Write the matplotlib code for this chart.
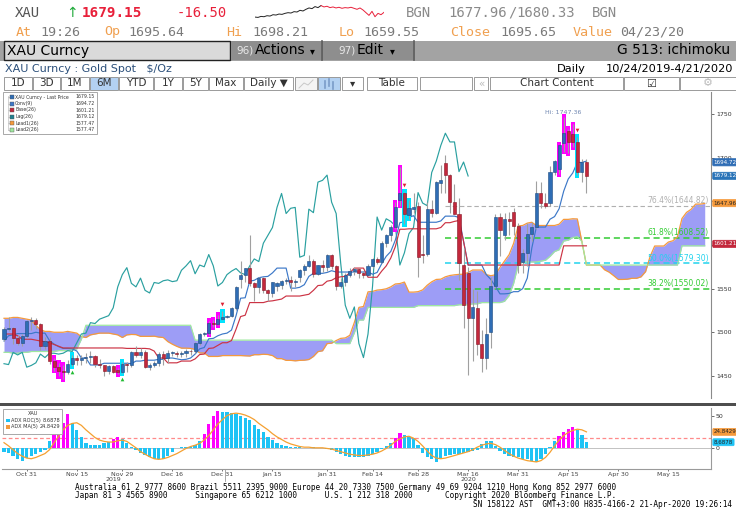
import numpy as np
import pandas as pd
import matplotlib
matplotlib.use("Agg")
import matplotlib.pyplot as plt
from matplotlib.patches import Rectangle
from matplotlib.lines import Line2D
import matplotlib.transforms as mtransforms

# ---------------- data ----------------
start_date = '2019-10-24'
opens = [1492, 1504, 1505, 1493, 1488, 1496, 1513, 1514, 1509, 1484,
 1490, 1467, 1460, 1456, 1455, 1464, 1471, 1468, 1471, 1472,
 1473, 1464, 1462, 1456, 1461, 1457, 1454, 1464, 1463, 1477,
 1474, 1477, 1460, 1462, 1465, 1475, 1471, 1476, 1476, 1475,
 1476, 1479, 1478, 1488, 1498, 1499, 1511, 1510, 1515, 1517,
 1519, 1528, 1561, 1566, 1574, 1556, 1552, 1562, 1548, 1545,
 1553, 1554, 1559, 1560, 1558, 1563, 1571, 1576, 1582, 1567,
 1577, 1575, 1589, 1576, 1553, 1557, 1566, 1570, 1573, 1568,
 1566, 1576, 1584, 1581, 1602, 1611, 1620, 1651, 1659, 1634,
 1641, 1645, 1590, 1590, 1641, 1637, 1671, 1694, 1680, 1649,
 1636, 1577, 1568, 1516, 1528, 1487, 1471, 1500, 1553, 1632,
 1611, 1630, 1638, 1622, 1580, 1591, 1613, 1620, 1660, 1648,
 1648, 1683, 1687, 1717, 1731, 1727, 1718, 1683, 1695]
highs = [1506, 1518, 1506, 1497, 1498, 1514, 1517, 1516, 1511, 1494,
 1495, 1471, 1465, 1463, 1468, 1474, 1474, 1474, 1476, 1479,
 1474, 1469, 1463, 1463, 1462, 1459, 1466, 1466, 1478, 1484,
 1482, 1480, 1465, 1467, 1477, 1479, 1480, 1479, 1479, 1479,
 1481, 1481, 1489, 1499, 1500, 1513, 1514, 1520, 1524, 1520,
 1529, 1553, 1582, 1574, 1611, 1557, 1563, 1563, 1550, 1558,
 1558, 1560, 1562, 1565, 1561, 1572, 1578, 1588, 1584, 1577,
 1583, 1590, 1590, 1577, 1562, 1568, 1574, 1575, 1574, 1570,
 1578, 1585, 1586, 1604, 1612, 1623, 1649, 1689, 1661, 1651,
 1660, 1649, 1611, 1649, 1652, 1673, 1692, 1703, 1681, 1670,
 1654, 1596, 1575, 1550, 1547, 1503, 1516, 1563, 1635, 1637,
 1637, 1638, 1642, 1625, 1595, 1625, 1626, 1673, 1672, 1660,
 1691, 1697, 1715, 1747, 1733, 1738, 1724, 1698, 1698]
lows = [1490, 1501, 1487, 1485, 1484, 1493, 1503, 1504, 1480, 1481,
 1464, 1456, 1450, 1446, 1452, 1461, 1462, 1463, 1465, 1465,
 1460, 1459, 1450, 1452, 1453, 1452, 1453, 1454, 1460, 1472,
 1470, 1459, 1457, 1460, 1461, 1463, 1465, 1473, 1472, 1472,
 1472, 1474, 1476, 1485, 1496, 1497, 1506, 1508, 1514, 1516,
 1517, 1525, 1551, 1557, 1553, 1536, 1545, 1545, 1536, 1540,
 1547, 1550, 1555, 1547, 1552, 1558, 1566, 1575, 1563, 1566,
 1569, 1570, 1572, 1548, 1551, 1553, 1563, 1566, 1562, 1562,
 1564, 1574, 1578, 1579, 1598, 1604, 1618, 1645, 1624, 1630,
 1637, 1563, 1579, 1587, 1632, 1636, 1660, 1660, 1637, 1635,
 1560, 1505, 1451, 1467, 1474, 1455, 1458, 1482, 1551, 1587,
 1606, 1611, 1611, 1568, 1568, 1576, 1604, 1618, 1642, 1642,
 1645, 1680, 1681, 1707, 1705, 1712, 1680, 1672, 1659]
closes = [1504, 1505, 1493, 1488, 1496, 1513, 1514, 1509, 1484, 1490,
 1467, 1460, 1456, 1455, 1464, 1471, 1468, 1471, 1472, 1473,
 1464, 1462, 1456, 1461, 1455, 1454, 1464, 1463, 1477, 1474,
 1477, 1460, 1462, 1465, 1475, 1471, 1476, 1476, 1475, 1476,
 1479, 1478, 1488, 1498, 1499, 1511, 1510, 1515, 1517, 1519,
 1528, 1552, 1566, 1574, 1556, 1552, 1562, 1548, 1545, 1557,
 1556, 1559, 1560, 1558, 1559, 1571, 1576, 1582, 1567, 1577,
 1575, 1589, 1576, 1553, 1557, 1566, 1570, 1573, 1568, 1566,
 1576, 1584, 1581, 1602, 1611, 1620, 1643, 1659, 1636, 1642,
 1643, 1586, 1588, 1641, 1637, 1672, 1674, 1680, 1649, 1636,
 1579, 1531, 1516, 1529, 1487, 1471, 1498, 1553, 1632, 1617,
 1630, 1627, 1622, 1577, 1591, 1613, 1620, 1660, 1648, 1645,
 1683, 1696, 1714, 1728, 1718, 1718, 1684, 1695, 1679]
conv_line = [1490, 1496, 1497, 1498.5, 1498.5, 1498.5, 1498.5, 1500, 1499, 1499,
 1490.5, 1486.5, 1483.5, 1481.5, 1481.5, 1481, 1478.5, 1470.5, 1470.5, 1462.5,
 1462.5, 1462.5, 1464.5, 1464.5, 1464.5, 1464.5, 1464.5, 1464.5, 1464, 1467,
 1467, 1468, 1468, 1468, 1469, 1469, 1470.5, 1470.5, 1469.5, 1468.5,
 1469, 1470.5, 1475, 1481, 1482.5, 1492.5, 1493, 1496, 1498, 1499,
 1502.5, 1519, 1539, 1539.5, 1558.5, 1559.5, 1562.5, 1563.5, 1564, 1568,
 1573.5, 1573.5, 1573.5, 1550.5, 1550.5, 1551.5, 1554.5, 1564, 1567.5, 1567.5,
 1567.5, 1568.5, 1570.5, 1569, 1569, 1569, 1569, 1569, 1569, 1569,
 1569, 1566.5, 1568.5, 1578.5, 1587, 1592.5, 1605.5, 1625.5, 1626.5, 1631.5,
 1633.5, 1626, 1626, 1626, 1626, 1626, 1627.5, 1633, 1633, 1633,
 1631.5, 1604, 1577, 1577, 1577, 1577, 1566, 1560.5, 1552.5, 1544,
 1544, 1544.5, 1546.5, 1546.5, 1550, 1562, 1596.5, 1620.5, 1620.5, 1620.5,
 1629.5, 1632.5, 1641.5, 1661.5, 1675.5, 1682.5, 1694.5, 1694.5, 1696]
base_line = [1498, 1498, 1498, 1496, 1492, 1492, 1492, 1491, 1490, 1489,
 1488, 1486, 1484, 1482, 1482, 1482, 1482, 1482, 1482, 1482,
 1482, 1482, 1482, 1482, 1482, 1482, 1482, 1481.5, 1481.5, 1481.5,
 1481.5, 1481.5, 1481, 1478.5, 1470.5, 1470.5, 1465, 1465, 1465, 1467,
 1467, 1467, 1469.5, 1474.5, 1475, 1481.5, 1482, 1485, 1488, 1488,
 1490.5, 1503.5, 1518, 1519.5, 1534, 1534, 1534, 1534, 1535.5, 1536,
 1537, 1538, 1541.5, 1541.5, 1541.5, 1541.5, 1542.5, 1543.5, 1548, 1553.5,
 1554, 1558.5, 1559.5, 1562.5, 1563.5, 1564, 1568, 1573.5, 1573.5, 1573.5,
 1563, 1563, 1563, 1570, 1576, 1585, 1598, 1618, 1618, 1618.5,
 1618.5, 1618.5, 1618.5, 1618.5, 1618.5, 1618.5, 1620, 1625.5, 1625.5, 1627,
 1628, 1604, 1577, 1577, 1577, 1577, 1577, 1577, 1577, 1577,
 1577, 1577, 1577, 1577, 1577, 1577, 1577, 1577, 1577, 1577,
 1577, 1577, 1577, 1599, 1599, 1599, 1599, 1599, 1599]
lead1_line = [1516, 1516, 1517, 1517, 1516, 1515, 1514, 1508, 1503, 1501,
 1501, 1500, 1500, 1500, 1501, 1500, 1499, 1495, 1494, 1497,
 1498, 1499, 1499, 1499, 1498, 1497,
 1494, 1497, 1497.5, 1497.3, 1495.3, 1495.3, 1495.3, 1495.5, 1494.5, 1494,
 1489.3, 1486.3, 1483.8, 1481.8, 1481.8, 1481.5, 1480.3, 1476.3, 1476.3, 1472.3,
 1472.3, 1472.3, 1473.3, 1473.3, 1473.3, 1473.3, 1473.3, 1473, 1472.8, 1474.3,
 1474.3, 1474.8, 1474.5, 1473.3, 1469.8, 1469.8, 1467.8, 1467.8, 1467.3, 1467.8,
 1468, 1468.8, 1472.3, 1477.8, 1478.8, 1487, 1487.5, 1490.5, 1493, 1493.5,
 1496.5, 1511.3, 1528.5, 1529.5, 1546.3, 1546.8, 1548.3, 1548.8, 1549.8, 1552,
 1555.3, 1555.8, 1557.5, 1546, 1546, 1546.5, 1548.5, 1553.8, 1557.8, 1560.5,
 1560.8, 1563.5, 1565, 1565.8, 1566.3, 1566.5, 1568.5, 1571.3, 1571.3, 1571.3,
 1566, 1564.8, 1565.8, 1574.3, 1581.5, 1588.8, 1601.8, 1621.8, 1622.3, 1625,
 1626, 1622.3, 1622.3, 1622.3, 1622.3, 1622.3, 1623.8, 1629.3, 1629.3, 1630,
 1629.8, 1604, 1577, 1577, 1577, 1577, 1571.5, 1568.8, 1564.8, 1560.5,
 1560.5, 1560.8, 1561.8, 1561.8, 1563.5, 1569.5, 1586.8, 1598.8, 1598.8, 1598.8,
 1603.3, 1604.8, 1609.3, 1630.3, 1637.3, 1640.8, 1646.8, 1646.8, 1647.5]
lead2_line = [1477, 1477, 1476, 1476, 1477, 1477, 1478, 1478, 1478, 1478,
 1478, 1478, 1479, 1479, 1479, 1480, 1481, 1492, 1508, 1508,
 1508, 1508, 1508, 1508, 1508, 1508, 1508, 1508, 1508, 1508,
 1508, 1508, 1508, 1508, 1508, 1508, 1508, 1508, 1508, 1508,
 1508, 1508, 1491, 1491, 1491, 1491, 1491, 1491, 1491, 1491,
 1491, 1491, 1491, 1491, 1491, 1491, 1491, 1491, 1491, 1491,
 1491, 1491, 1491, 1491, 1491, 1491, 1491, 1491, 1491, 1491,
 1491, 1491, 1491, 1487, 1487, 1487, 1487, 1499.5, 1514, 1514,
 1528.5, 1528.5, 1528.5, 1528.5, 1528.5, 1528.5, 1528.5, 1528.5, 1528.5, 1528.5,
 1528.5, 1530.5, 1530.5, 1530.5, 1530.5, 1530.5, 1530.5, 1530.5, 1530.5, 1530.5,
 1531.5, 1531.5, 1531.5, 1532.5, 1532.5, 1534, 1534, 1534, 1534, 1534,
 1535.5, 1542, 1556, 1577, 1580.5, 1580.5, 1580.5, 1580.5, 1581.5, 1582.5,
 1587, 1592.5, 1594.5, 1604.5, 1605.5, 1608.5, 1609.5, 1604, 1577, 1577,
 1577, 1577, 1577, 1577, 1577, 1577, 1577, 1577, 1577, 1577,
 1577, 1577, 1577, 1577, 1577, 1577, 1577, 1577, 1577, 1599,
 1599, 1599, 1599, 1599, 1599]
adx_roc = [-7, -8, -12, -18, -20, -16, -12, -10, -6, -3,
 11, 22, 25, 38, 52, 38, 28, 17, 7, 4,
 4, 5, 7, 9, 13, 17, 13, 7, 2, -4,
 -8, -11, -15, -17, -17, -17, -12, -6, -1, 2,
 2, 2, 4, 11, 22, 37, 50, 57, 56, 55,
 54, 52, 50, 47, 43, 35, 30, 25, 17, 12,
 8, 5, 3, 2, 1, 1, 0, -1, 1, 0,
 -1, -2, -4, -7, -9, -12, -14, -15, -15, -14,
 -12, -10, -6, -2, 3, 8, 15, 23, 20, 17,
 15, 5, -8, -14, -18, -22, -16, -12, -11, -10,
 -9, -8, -7, -5, -3, 6, 11, 10, 3, -5,
 -9, -12, -14, -15, -17, -18, -20, -22, -17, -10,
 2, 10, 18, 24, 30, 33, 28, 20, 8.6878]
adx_ma = [8, 3, -3, -9, -13, -16, -17, -15, -12, -9,
 -3, 8, 18, 28, 35, 38, 39, 35, 28, 22,
 16, 12, 10, 9, 9, 11, 12, 10, 5, 0,
 -6, -10, -14, -17, -18, -17, -15, -12, -9, -5,
 -1, 2, 4, 7, 12, 19, 28, 37, 44, 50,
 53, 54, 53, 51, 48, 44, 38, 33, 28, 22,
 17, 13, 9, 6, 4, 2, 1, 1, 0, 0,
 0, -1, -2, -4, -6, -8, -10, -11, -12, -12,
 -11, -10, -8, -5, -1, 4, 10, 14, 17, 18,
 15, 10, 3, -5, -12, -16, -17, -16, -14, -12,
 -10, -8, -6, -3, 1, 4, 6, 7, 5, 1,
 -4, -9, -13, -16, -18, -20, -21, -22, -20, -15,
 -7, 3, 12, 19, 24, 27, 29, 28, 24.8429]
magenta_candles = [11, 12, 13, 25, 45, 46, 47, 86, 87, 122, 123, 124, 125]
cyan_candles = [15, 26, 48, 88, 89, 126]
sell_marks = [48, 88, 126]
buy_marks = [15, 26]
magenta_bars = [11, 12, 13, 14, 24, 25, 44, 45, 46, 47, 86, 87, 122, 123, 124, 125]
fib_levels = [1644.82, 1608.52, 1579.30, 1550.02]
fib_labels = ['76.4%(1644.82)', '61.8%(1608.52)', '50.0%(1579.30)', '38.2%(1550.02)']
fib_start = 97
tick_dates = ['2019-10-31', '2019-11-15', '2019-11-29', '2019-12-16', '2019-12-31',
              '2020-01-15', '2020-01-31', '2020-02-14', '2020-02-28', '2020-03-16',
              '2020-03-31', '2020-04-15', '2020-04-30', '2020-05-15']
tick_labels = ['Oct 31', 'Nov 15', 'Nov 29', 'Dec 16', 'Dec 31', 'Jan 15', 'Jan 31',
               'Feb 14', 'Feb 28', 'Mar 16', 'Mar 31', 'Apr 15', 'Apr 30', 'May 15']
spark_black = [1663, 1662, 1665, 1664, 1667, 1666, 1670, 1669, 1672, 1671, 1674, 1676,
               1675, 1679, 1678, 1683, 1681, 1686, 1690, 1688, 1694, 1691, 1697]
spark_red = [1697, 1693, 1695, 1691, 1693, 1690, 1692, 1689, 1691, 1690, 1692, 1689,
             1686, 1690, 1684, 1676, 1668, 1680, 1664, 1674, 1670, 1677]

# ---------------- figure ----------------
W, H = 736, 530
fig = plt.figure(figsize=(W / 100, H / 100), dpi=100)
fig.patch.set_facecolor('white')
MONO = 'DejaVu Sans Mono'
SANS = 'DejaVu Sans'

def X(p): return p / W
def Y(p): return 1 - p / H

def frect(x, y, w, h, fc, ec='none', lw=0.8, z=1):
    fig.add_artist(Rectangle((X(x), Y(y + h)), w / W, h / H, transform=fig.transFigure,
                             facecolor=fc, edgecolor=ec, linewidth=lw, zorder=z))

def ftext(x, y, s, size=8, color='black', ha='left', va='center', family=SANS, **kw):
    fig.text(X(x), Y(y), s, fontsize=size, color=color, ha=ha, va=va, family=family, **kw)

def fline(xs, ys, color, lw=0.8, z=2, ls='-'):
    fig.add_artist(Line2D([X(v) for v in xs], [Y(v) for v in ys], transform=fig.transFigure,
                          color=color, lw=lw, zorder=z, ls=ls))

# header row 1
ORG = '#f0a050'
GRY = '#7a7a7a'
ftext(15, 13, 'XAU', 10, '#555555', family=MONO)
ftext(66, 13, '\u2191', 10, '#1faa3a', family=SANS)
ftext(82, 13, '1679.15', 10.3, '#e8203a', family=MONO, weight='bold')
ftext(177, 13, '-16.50', 10, '#e8203a', family=MONO)
ftext(406, 13, 'BGN', 10, '#8a8a8a', family=MONO)
ftext(448, 13, '1677.96', 10, '#8a8a8a', family=MONO)
ftext(508, 13, '/', 10, '#8a8a8a', family=MONO)
ftext(516, 13, '1680.33', 10, '#8a8a8a', family=MONO)
ftext(592, 13, 'BGN', 10, '#8a8a8a', family=MONO)
sax = fig.add_axes([X(255), Y(18), 129 / W, 13 / H])
sax.axis('off')
nb = len(spark_black)
sax.plot(range(nb), spark_black, color='#222222', lw=0.7)
sax.plot(range(nb - 1, nb - 1 + len(spark_red)), spark_red, color='#e8203a', lw=0.7)
sax.set_xlim(0, nb + len(spark_red) - 2)

# header row 2
for (x, s, c) in [(16, 'At', ORG), (40, '19:26', GRY), (104, 'Op', ORG), (128, '1695.64', GRY),
                  (226, 'Hi', ORG), (252, '1698.21', GRY), (339, 'Lo', ORG), (363, '1659.55', GRY),
                  (450, 'Close', ORG), (500, '1695.65', GRY), (573, 'Value', ORG), (620, '04/23/20', GRY)]:
    ftext(x, 32, s, 9.6, c, family=MONO)

# toolbar
frect(0, 40.5, 736, 20, '#a3a3a3')
frect(4, 41, 226, 19, '#dadada', ec='#222222', lw=1.0, z=2)
ftext(7, 50.5, 'XAU Curncy', 10, 'black')
frect(231, 41, 90, 19, '#8e8e8e', z=2)
ftext(236, 50.5, '96)', 7.5, '#e8e8e8')
ftext(255, 50.5, 'Actions', 10, 'black')
ftext(310, 51, '\u25be', 7, 'black')
fline([321.5, 321.5], [41, 60], '#5a5a5a', lw=1.2, z=3)
frect(322, 41, 91, 19, '#8e8e8e', z=2)
ftext(338, 50.5, '97)', 7.5, '#e8e8e8')
ftext(357, 50.5, 'Edit', 10, 'black')
ftext(390, 51, '\u25be', 7, 'black')
fline([413.5, 413.5], [41, 60], '#5a5a5a', lw=1.2, z=3)
ftext(730, 50.5, 'G 513: ichimoku', 10, 'black', ha='right')

# title row
ftext(5, 69, 'XAU Curncy : Gold Spot   $/Oz', 8, '#2b4f7a')
ftext(557, 69, 'Daily', 8.2, 'black')
ftext(733, 69, '10/24/2019-4/21/2020', 8.2, 'black', ha='right')

# button row
buttons = [(4, 32, '1D', 'white'), (33, 60, '3D', 'white'), (61, 89, '1M', 'white'),
           (90, 118, '6M', '#b3d1f2'), (119, 153, 'YTD', 'white'), (154, 182, '1Y', 'white'),
           (183, 208, '5Y', 'white'), (209, 243, 'Max', 'white'), (244, 293, 'Daily \u25bc', 'white'),
           (295, 317, '', '#f4f4f4'), (318, 340, '', '#b3d1f2'), (342, 363, '\u25be', 'white'),
           (367, 417, 'Table', 'white'), (420, 472, '', 'white'), (474, 488, '\u00ab', 'white'),
           (490, 623, 'Chart Content', 'white'), (624, 679, '\u2611', 'white'), (680, 736, '\u2699', 'white')]
for (x0, x1, lab, bg) in buttons:
    frect(x0, 77, x1 - x0, 13, bg, ec='#9a9a9a', lw=0.7, z=2)
    if lab:
        col = '#bbbbbb' if lab in ('\u00ab', '\u2699') else '#333333'
        fs = 7.5 if lab not in ('\u2611', '\u2699') else 8
        ftext((x0 + x1) / 2, 83.5, lab, fs, col, ha='center')
fline([299, 304, 308, 313], [88, 83, 85, 80], '#c8c8c8', lw=0.7, z=3)
for k, (a, b) in enumerate([(81, 88), (79, 86), (82, 89)]):
    fline([325 + 4 * k, 325 + 4 * k], [a, b], '#7a9cc8', lw=1.2, z=3)

# ---------------- main price panel ----------------
n = len(closes)
NF = len(lead1_line)
dates = pd.bdate_range(start_date, periods=NF)
xi = np.arange(n)
xf = np.arange(NF)
O = np.array(opens, float); Hh = np.array(highs, float)
L = np.array(lows, float); C = np.array(closes, float)

ax = fig.add_axes([X(2), Y(398), 709 / W, 306 / H])
XL = (-0.44, 155.38)
ax.set_xlim(*XL)
ax.set_ylim(1424.7, 1775.2)
for s in ['top', 'left', 'bottom']:
    ax.spines[s].set_visible(False)
ax.spines['right'].set_color('#8a8a8a')
ax.spines['right'].set_linewidth(0.8)
ax.set_xticks([])
ax.yaxis.tick_right()
ax.set_yticks([1450, 1500, 1550, 1600, 1650, 1700, 1750])
ax.set_yticklabels(['1450', '1500', '1550', '', '', '1700', '1750'])
ax.tick_params(axis='y', labelsize=4.5, length=2, pad=1.5, colors='#333333', width=0.5)

# cloud
ax.fill_between(xf, lead1_line, lead2_line, color='#9d9df6', lw=0, zorder=1)
ax.plot(xf, lead1_line, color='#f59a3c', lw=0.9, zorder=2)
ax.plot(xf, lead2_line, color='#9fe89f', lw=0.9, zorder=2)

# fib levels
fib_colors = ['#b0b0b0', '#33cc33', '#22d3ee', '#33cc33']
fib_lw = [0.8, 1.1, 1.1, 1.1]
for lev, lab, col, lw in zip(fib_levels, fib_labels, fib_colors, fib_lw):
    ax.plot([fib_start, XL[1]], [lev, lev], color=col, lw=lw, ls=(0, (4, 2.5)), zorder=1.5)
    ax.text(154.9, lev + 0.5, lab, fontsize=5.5, color=col, ha='right', va='bottom', zorder=6)

# lines
ax.plot(xi[:n - 26], C[26:], color='#2aa0a0', lw=0.85, zorder=3)
ax.plot(xi, conv_line, color='#3c78c8', lw=0.85, zorder=3)
ax.plot(xi, base_line, color='#cc3344', lw=0.85, zorder=3)

# highlight boxes
for idx in magenta_candles:
    ax.bar(idx, Hh[idx] - L[idx] + 6, bottom=L[idx] - 3, width=0.95, color='#ff00ff', lw=0, zorder=3.5)
for idx in cyan_candles:
    ax.bar(idx, Hh[idx] - L[idx] + 6, bottom=L[idx] - 3, width=0.95, color='#00e4ff', lw=0, zorder=3.5)

# candles
ax.vlines(xi, L, Hh, color='#a0a0a0', lw=0.8, zorder=4)
up = C >= O
bb = np.minimum(O, C)
bh = np.maximum(np.abs(C - O), 1.0)
ax.bar(xi[up], bh[up], bottom=bb[up], width=0.68, color='#2f6db5', edgecolor='#1c4a80', lw=0.4, zorder=5)
ax.bar(xi[~up], bh[~up], bottom=bb[~up], width=0.68, color='#c3283c', edgecolor='#861525', lw=0.4, zorder=5)

# markers
ax.scatter(sell_marks, Hh[sell_marks] + 8, marker='v', s=7, color='#dd2233', zorder=6, lw=0)
ax.scatter(buy_marks, L[buy_marks] - 7, marker='^', s=7, color='#22bb33', zorder=6, lw=0)
ax.text(123, 1752, 'Hi: 1747.36', fontsize=4.5, color='#6f86b0', ha='center', va='center', zorder=6)

# right axis tags
bt = mtransforms.blended_transform_factory(ax.transAxes, ax.transData)
for val, txt, fc, tc in [(1694.72, '1694.72', '#2f6db5', 'white'), (1679.12, '1679.12', '#2a74b8', 'white'),
                         (1647.96, '1647.96', '#f59a3c', '#222222'), (1601.21, '1601.21', '#c3283c', 'white')]:
    ax.text(1.004, val, txt, transform=bt, fontsize=4.1, color=tc, ha='left', va='center', clip_on=False,
            zorder=10, bbox=dict(boxstyle='round,pad=0.2', fc=fc, ec=fc, lw=0.5))

# main legend
frect(3, 92, 94, 42, 'white', ec='#a8a8a8', lw=0.7, z=5)
fline([7.5, 7.5], [96, 130], '#c0c0c0', lw=0.5, z=6)
leg = [('XAU Curncy - Last Price', '1679.15', '#2f6db5'), ('Conv(9)', '1694.72', '#3c78c8'),
       ('Base(26)', '1601.21', '#c3283c'), ('Lag(26)', '1679.12', '#1f8090'),
       ('Lead1(26)', '1577.47', '#f59a3c'), ('Lead2(26)', '1577.47', '#9fe89f')]
for k, (lab, val, col) in enumerate(leg):
    yy = 97 + 6.5 * k
    fline([7.5, 10], [yy, yy], '#c0c0c0', lw=0.5, z=6)
    frect(10, yy - 2, 4, 4, col, ec='#555555', lw=0.3, z=6)
    ftext(15, yy, lab, 3.3, '#333333', zorder=7)
    ftext(95, yy, val, 3.3, '#333333', ha='right', zorder=7)

# separator
frect(0, 403, 736, 3.2, '#4e4e4e', z=3)

# ---------------- lower panel ----------------
ax2 = fig.add_axes([X(2), Y(469), 709 / W, 61 / H])
ax2.set_xlim(*XL)
ax2.set_ylim(-33, 62)
for s in ['top', 'left']:
    ax2.spines[s].set_visible(False)
for s in ['right', 'bottom']:
    ax2.spines[s].set_color('#9a9a9a')
    ax2.spines[s].set_linewidth(0.8)
ax2.axhline(0, color='#b8b8b8', lw=0.6, zorder=1)
ax2.axhline(15, color='#ff8a8a', lw=0.9, ls=(0, (3, 2)), zorder=1)
roc = np.array(adx_roc, float)
bar_cols = ['#ff00ff' if i in magenta_bars else '#1ec3f5' for i in range(n)]
ax2.bar(xi, roc, width=0.72, color=bar_cols, lw=0, zorder=2)
ax2.plot(xi, adx_ma, color='#f5a030', lw=0.9, zorder=3)
ax2.yaxis.tick_right()
ax2.set_yticks([0, 50])
ax2.tick_params(axis='y', labelsize=4.5, length=2, pad=1.5, colors='#333333', width=0.5)
tick_pos = [dates.get_loc(pd.Timestamp(d)) for d in tick_dates]
ax2.set_xticks(tick_pos)
ax2.set_xticklabels(tick_labels)
ax2.tick_params(axis='x', labelsize=4.5, length=1.5, pad=0.8, colors='#444444', width=0.5)
bt2 = mtransforms.blended_transform_factory(ax2.transData, ax2.transAxes)
ax2.text(dates.get_loc(pd.Timestamp('2019-11-27')), -0.17, '2019', transform=bt2, fontsize=4.5,
         color='#444444', ha='center', va='center')
ax2.text(dates.get_loc(pd.Timestamp('2020-03-16')), -0.17, '2020', transform=bt2, fontsize=4.5,
         color='#444444', ha='center', va='center')
ny = dates.get_loc(pd.Timestamp('2019-12-31')) + 0.5
ax2.plot([ny, ny], [0, -0.2], transform=bt2, color='#9a9a9a', lw=0.6, clip_on=False)
bt3 = mtransforms.blended_transform_factory(ax2.transAxes, ax2.transData)
for val, txt, fc, tc in [(24.8429, '24.8429', '#f59a3c', '#222222'), (8.6878, '8.6878', '#1ec3f5', '#222222')]:
    ax2.text(1.004, val, txt, transform=bt3, fontsize=4.0, color=tc, ha='left', va='center', clip_on=False,
             zorder=10, bbox=dict(boxstyle='round,pad=0.18', fc=fc, ec=fc, lw=0.5))

# lower legend
frect(3, 408.5, 59, 25, 'white', ec='#a8a8a8', lw=0.7, z=5)
ftext(28, 413.5, 'XAU', 3.6, '#333333', zorder=7)
frect(6, 418.5, 3.5, 3.5, '#1ec3f5', z=6)
ftext(11, 420.2, 'ADX ROC(5)', 3.6, '#333333', zorder=7)
ftext(60, 420.2, '8.6878', 3.6, '#333333', ha='right', zorder=7)
frect(6, 425, 3.5, 3.5, '#f59a3c', z=6)
ftext(11, 426.7, 'ADX MA(5)', 3.6, '#333333', zorder=7)
ftext(60, 426.7, '24.8429', 3.6, '#333333', ha='right', zorder=7)

# footer
ftext(75, 487.5, 'Australia 61 2 9777 8600 Brazil 5511 2395 9000 Europe 44 20 7330 7500 Germany 49 69 9204 1210 Hong Kong 852 2977 6000',
      5.6, 'black', family=MONO)
ftext(75, 496, 'Japan 81 3 4565 8900      Singapore 65 6212 1000      U.S. 1 212 318 2000       Copyright 2020 Bloomberg Finance L.P.',
      5.6, 'black', family=MONO)
ftext(732, 504.5, 'SN 158122 AST  GMT+3:00 H835-4166-2 21-Apr-2020 19:26:14', 5.6, 'black', ha='right', family=MONO)

fig.savefig('out.png', dpi=100)
